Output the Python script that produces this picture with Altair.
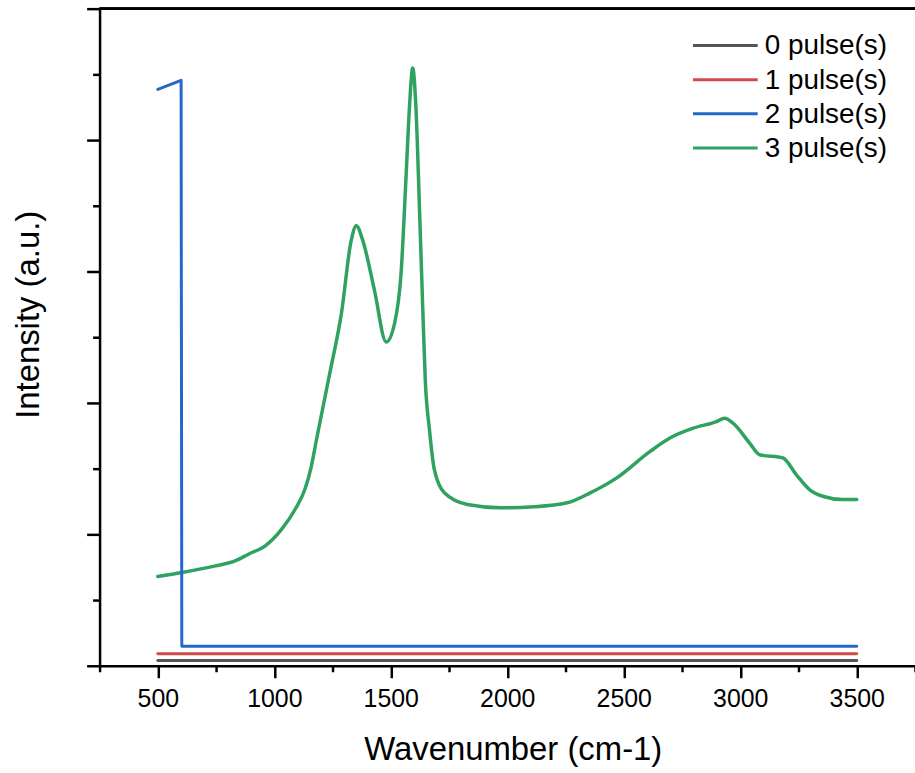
import altair as alt
import pandas as pd

# Raman spectra after 0-3 laser pulses
series_names = ["0 pulse(s)", "1 pulse(s)", "2 pulse(s)", "3 pulse(s)"]
series_colors = ["#555555", "#d04a4a", "#2468cc", "#2fa262"]

wn_0 = [500, 3500]
int_0 = [40, 40]

wn_1 = [500, 3500]
int_1 = [91, 91]

wn_2 = [500, 600, 603, 3500]
int_2 = [4386, 4455, 149, 149]

wn_3 = [500, 604, 747, 832, 889, 960, 1031, 1089, 1131, 1159, 1181, 1238, 1288,
        1330, 1352, 1380, 1430, 1480, 1516, 1544, 1566, 1580, 1594, 1608, 1623,
        1637, 1648, 1666, 1687, 1730, 1829, 1972, 2114, 2257, 2356, 2470, 2613,
        2698, 2798, 2898, 2933, 2969, 3040, 3083, 3183, 3240, 3297, 3354, 3439, 3500]
int_3 = [680, 710, 760, 798, 849, 911, 1038, 1189, 1341, 1518, 1720, 2225, 2680,
         3235, 3349, 3235, 2856, 2464, 2604, 2983, 3740, 4245, 4548, 4245, 3487,
         2730, 2174, 1796, 1492, 1316, 1227, 1202, 1210, 1240, 1316, 1430, 1631,
         1733, 1808, 1858, 1884, 1846, 1695, 1606, 1581, 1455, 1341, 1290, 1265, 1265]

rows = []
for name, wn, vals in zip(series_names, [wn_0, wn_1, wn_2, wn_3], [int_0, int_1, int_2, int_3]):
    for i, (w, v) in enumerate(zip(wn, vals)):
        rows.append({"series": name, "wn": w, "intensity": v, "i": i})
df = pd.DataFrame(rows)
legend_df = pd.DataFrame({"series": series_names})

FONT = "Liberation Sans"
W, H = 819, 660

color_scale = alt.Scale(domain=series_names, range=series_colors)

x_enc = alt.X(
    "wn:Q",
    scale=alt.Scale(domain=[250, 3750], nice=False, zero=False),
    axis=alt.Axis(
        values=list(range(250, 3751, 250)),
        labelExpr="datum.value % 500 === 0 ? format(datum.value, 'd') : ''",
        labelOverlap=False,
        labelFlush=False,
        labelFontSize=25,
        labelFont=FONT,
        labelColor="black",
        labelPadding=9,
        tickSize={"condition": {"test": "datum.value % 500 === 0", "value": 12}, "value": 6},
        tickWidth=2.5,
        tickColor="black",
        domainWidth=2.5,
        domainColor="black",
        grid=False,
        title="Wavenumber (cm-1)",
        titleFont=FONT,
        titleFontSize=33,
        titleFontWeight="normal",
        titleColor="black",
        titleX=415,
        titleY=94,
        titleAlign="center",
        titleBaseline="alphabetic",
    ),
)

y_enc = alt.Y(
    "intensity:Q",
    scale=alt.Scale(domain=[0, 5000], nice=False),
    axis=alt.Axis(
        values=list(range(0, 5001, 500)),
        labels=False,
        tickSize={"condition": {"test": "datum.value % 1000 === 0", "value": 13}, "value": 7},
        tickWidth=2.5,
        tickColor="black",
        domainWidth=2.5,
        domainColor="black",
        grid=False,
        title="Intensity (a.u.)",
        titleFont=FONT,
        titleFontSize=33,
        titleFontWeight="normal",
        titleColor="black",
        titleX=-61,
        titleY=307,
        titleAlign="center",
        titleBaseline="alphabetic",
    ),
)

base = alt.Chart(df)

def series_line(name, width, interp="linear"):
    return base.transform_filter(alt.datum.series == name).mark_line(
        strokeWidth=width, strokeJoin="round", strokeCap="round", interpolate=interp
    ).encode(
        x=x_enc,
        y=y_enc,
        color=alt.Color("series:N", scale=color_scale, legend=None),
        order="i:Q",
    )

frame_top = alt.Chart(legend_df).mark_rule(color="black", strokeWidth=2.5).encode(
    x=alt.value(0), x2=alt.value(W), y=alt.value(0)
)

spectra = alt.layer(
    series_line("3 pulse(s)", 3.5, "monotone"),
    series_line("0 pulse(s)", 3),
    series_line("1 pulse(s)", 3),
    series_line("2 pulse(s)", 3),
    frame_top,
)

legend_y = alt.Y(
    "series:N",
    scale=alt.Scale(type="point", domain=series_names, range=[37, 140], padding=0),
    axis=None,
)
legend_lines = alt.Chart(legend_df).mark_rule(strokeWidth=3).encode(
    x=alt.value(596),
    x2=alt.value(661),
    y=legend_y,
    color=alt.Color("series:N", scale=color_scale, legend=None),
)
legend_text = alt.Chart(legend_df).mark_text(
    align="left", baseline="middle", font=FONT, fontSize=28, color="black", dy=1
).encode(
    x=alt.value(668),
    y=legend_y,
    text="series:N",
)
legend = alt.layer(legend_lines, legend_text)

chart = (
    alt.layer(spectra, legend)
    .resolve_scale(y="independent")
    .properties(
        width=W,
        height=H,
        padding={"left": 100, "top": 7, "right": 0, "bottom": 106},
        autosize=alt.AutoSizeParams(type="none"),
        background="white",
    )
    .configure_view(stroke=None)
)

chart.save("out.html", embed_options={"renderer": "svg", "actions": False})
